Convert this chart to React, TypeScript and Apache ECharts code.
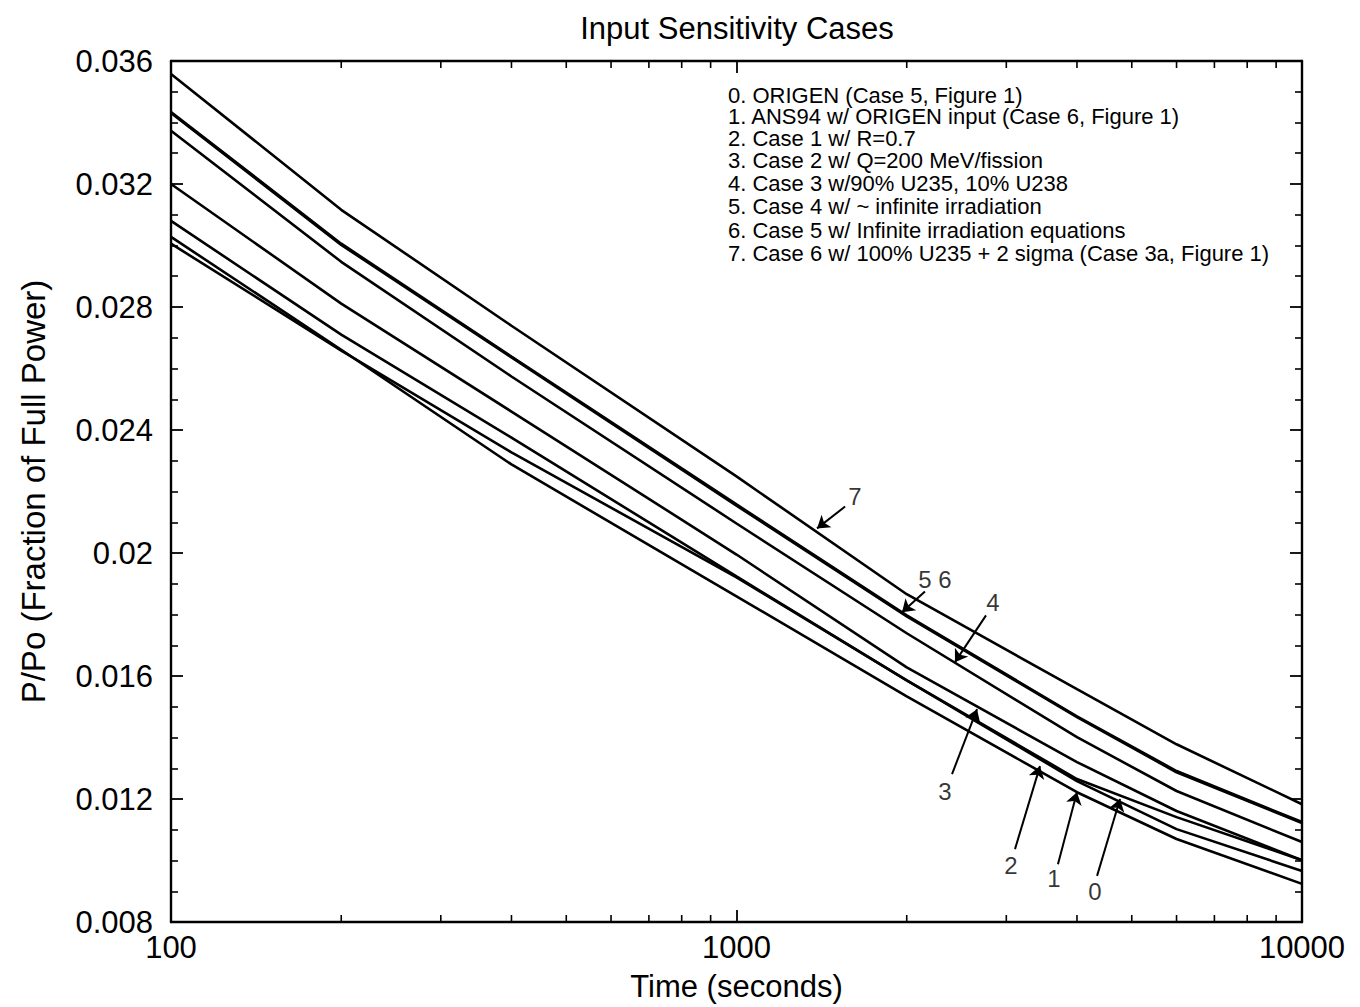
import React, { useEffect, useRef } from "react";
import * as echarts from "echarts";

// Time points (seconds)
const times = [100, 200, 400, 1000, 2000, 4000, 6000, 10000];

// P/Po values
const case0 = [0.03006, 0.02658, 0.02327, 0.01921, 0.01586, 0.01265, 0.01141, 0.01001];
const case1 = [0.03028, 0.02661, 0.02288, 0.01859, 0.01534, 0.01222, 0.0107, 0.00924];
const case2 = [0.0308, 0.0271, 0.02375, 0.01924, 0.01586, 0.01258, 0.01102, 0.00966];
const case3 = [0.032, 0.02811, 0.0246, 0.01995, 0.01628, 0.0132, 0.01161, 0.01001];
const case4 = [0.03373, 0.02947, 0.02574, 0.02096, 0.01739, 0.01401, 0.01226, 0.0106];
const case5 = [0.03434, 0.03006, 0.02639, 0.02158, 0.01797, 0.01469, 0.01291, 0.01125];
const case6 = [0.03431, 0.03002, 0.02636, 0.02154, 0.01794, 0.01466, 0.01287, 0.01122];
const case7 = [0.03558, 0.03116, 0.02739, 0.02249, 0.01866, 0.01557, 0.01378, 0.01183];

const allCases = [case0, case1, case2, case3, case4, case5, case6, case7];

const legendLines = [
  "0. ORIGEN (Case 5, Figure 1)",
  "1. ANS94 w/ ORIGEN input (Case 6, Figure 1)",
  "2. Case 1 w/ R=0.7",
  "3. Case 2 w/ Q=200 MeV/fission",
  "4. Case 3 w/90% U235, 10% U238",
  "5. Case 4 w/ ~ infinite irradiation",
  "6. Case 5 w/ Infinite irradiation equations",
  "7. Case 6 w/ 100% U235 + 2 sigma (Case 3a, Figure 1)",
];

// Minor tick values on the log time axis
const xMinorTicks = [200, 300, 400, 500, 600, 700, 800, 900, 2000, 3000, 4000, 5000, 6000, 7000, 8000, 9000];

// Arrow annotations: label, label position, arrow tail, arrow head (data coords)
const arrowLabels = ["7", "5 6", "4", "3", "2", "1", "0"];
const arrowLabelPos = [
  [1620, 0.02184],
  [2244, 0.01914],
  [2842, 0.0184],
  [2337, 0.01226],
  [3058, 0.00985],
  [3643, 0.0094],
  [4305, 0.00898],
];
const arrowTail = [
  [1556, 0.02151],
  [2154, 0.01875],
  [2762, 0.01797],
  [2405, 0.01281],
  [3108, 0.01037],
  [3702, 0.00988],
  [4341, 0.0095],
];
const arrowHead = [
  [1388, 0.0208],
  [1962, 0.01807],
  [2434, 0.01645],
  [2663, 0.01492],
  [3441, 0.01307],
  [4000, 0.01222],
  [4767, 0.012],
];

const FONT = "'Liberation Sans', Arial, Helvetica, sans-serif";

export default function App() {
  const ref = useRef<HTMLDivElement>(null);

  useEffect(() => {
    document.body.style.margin = "0";
    if (!ref.current) return;
    const chart = echarts.init(ref.current, null, { renderer: "svg" });

    const legendYs = [95, 116.5, 138, 160.5, 183.5, 206.5, 230, 253];

    const lineSeries = allCases.map((vals, k) => ({
      type: "line",
      name: "Case " + k,
      data: times.map((t, i) => [t, vals[i]]),
      symbol: "none",
      silent: true,
      itemStyle: { color: "#000" },
      lineStyle: { color: "#000", width: 2.6 },
      z: 3,
      ...(k === 0
        ? {
            markLine: {
              silent: true,
              symbol: ["none", "arrow"],
              symbolSize: 12,
              itemStyle: { color: "#000" },
              lineStyle: { color: "#000", width: 2, type: "solid" },
              label: { show: false },
              emphasis: { disabled: true },
              data: arrowTail.map((tail, i) => [{ coord: tail }, { coord: arrowHead[i] }]),
            },
          }
        : {}),
    }));

    const axisCommonY = {
      type: "value",
      min: 0.008,
      max: 0.036,
      interval: 0.004,
      splitLine: { show: false },
      axisLine: { show: true, lineStyle: { color: "#000", width: 2.4 } },
      axisTick: { show: true, inside: true, length: 12, lineStyle: { color: "#000", width: 1.8 } },
      minorTick: { show: true, splitNumber: 4, length: 7, lineStyle: { color: "#000", width: 1.6 } },
      minorSplitLine: { show: false },
    };

    const axisCommonX = {
      type: "log",
      logBase: 10,
      min: 100,
      max: 10000,
      splitLine: { show: false },
      axisLine: { show: true, lineStyle: { color: "#000", width: 2.4 } },
      axisTick: { show: true, inside: true, length: 12, lineStyle: { color: "#000", width: 1.8 } },
    };

    chart.setOption({
      animation: false,
      backgroundColor: "#fff",
      grid: { left: 171, right: 58, top: 61, bottom: 84, containLabel: false },
      xAxis: [
        {
          ...axisCommonX,
          position: "bottom",
          name: "Time (seconds)",
          nameLocation: "middle",
          nameGap: 49,
          nameTextStyle: { fontFamily: FONT, fontSize: 31, color: "#000" },
          axisLabel: {
            show: true,
            fontFamily: FONT,
            fontSize: 31,
            color: "#000",
            margin: 10,
            formatter: (v: number) => String(Math.round(v)),
          },
        },
        {
          ...axisCommonX,
          position: "top",
          axisLabel: { show: false },
        },
      ],
      yAxis: [
        {
          ...axisCommonY,
          position: "left",
          name: "P/Po (Fraction of Full Power)",
          nameLocation: "middle",
          nameGap: 121,
          nameTextStyle: { fontFamily: FONT, fontSize: 33, color: "#000" },
          axisLabel: { show: true, fontFamily: FONT, fontSize: 31, color: "#000", margin: 18 },
        },
        {
          ...axisCommonY,
          position: "right",
          axisLabel: { show: false },
        },
      ],
      graphic: [
        {
          type: "text",
          x: 737,
          y: 28,
          style: {
            text: "Input Sensitivity Cases",
            font: `31px ${FONT}`,
            fill: "#000",
            align: "center",
            verticalAlign: "middle",
            textAlign: "center",
            textVerticalAlign: "middle",
          },
        },
        ...legendLines.map((txt, i) => ({
          type: "text",
          x: 728,
          y: legendYs[i],
          style: {
            text: txt,
            font: `22px ${FONT}`,
            fill: "#000",
            align: "left",
            verticalAlign: "middle",
            textAlign: "left",
            textVerticalAlign: "middle",
          },
        })),
      ],
      series: [
        ...lineSeries,
        {
          type: "scatter",
          name: "labels",
          silent: true,
          symbolSize: 0,
          data: arrowLabelPos.map((p, i) => ({ value: p, name: arrowLabels[i] })),
          label: {
            show: true,
            position: "inside",
            formatter: "{b}",
            fontFamily: FONT,
            fontSize: 24,
            color: "#000",
          },
          z: 5,
        },
        {
          type: "custom",
          name: "minorTicks",
          silent: true,
          clip: false,
          data: xMinorTicks.map((t) => [t, 0.008]),
          encode: { x: 0, y: 1 },
          renderItem: (params: any, api: any) => {
            const t = api.value(0);
            const b = api.coord([t, 0.008]);
            const tp = api.coord([t, 0.036]);
            return {
              type: "group",
              children: [
                {
                  type: "line",
                  shape: { x1: b[0], y1: b[1], x2: b[0], y2: b[1] - 7 },
                  style: { stroke: "#000", lineWidth: 1.6 },
                },
                {
                  type: "line",
                  shape: { x1: tp[0], y1: tp[1], x2: tp[0], y2: tp[1] + 7 },
                  style: { stroke: "#000", lineWidth: 1.6 },
                },
              ],
            };
          },
          z: 4,
        },
      ],
    });

    return () => chart.dispose();
  }, []);

  return <div ref={ref} style={{ width: 1360, height: 1007 }} />;
}
